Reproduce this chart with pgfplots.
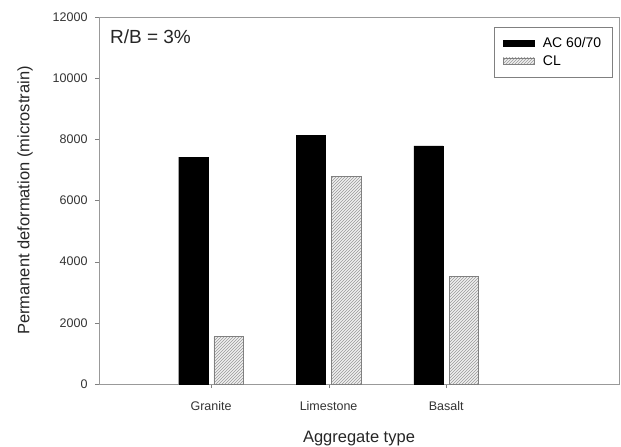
\documentclass[border=0pt]{standalone}
\usepackage{fontspec}
\setmainfont{Liberation Sans}
\usepackage{pgfplots}
\pgfplotsset{compat=1.18}
\usetikzlibrary{patterns}

% flat rectangle used as legend swatch
\pgfplotsset{flat swatch/.style={legend image code/.code={\draw[##1] (0pt,-3pt) rectangle (31pt,3pt);}}}

\begin{document}
\begin{tikzpicture}
% fixed frame around the plot area
\useasboundingbox (-99pt,-63pt) rectangle (522pt,384pt);
\begin{axis}[
  at={(0,0)}, anchor=south west,
  scale only axis, width=520pt, height=367pt,
  xmin=0.047, xmax=4.47, ymin=0, ymax=12000,
  ybar, bar width=0.25,
  xtick={1,2,3}, xticklabels={Granite,Limestone,Basalt},
  ytick={0,2000,...,12000},
  scaled y ticks=false,
  /pgf/number format/fixed,
  /pgf/number format/1000 sep={},
  /pgf/number format/assume math mode=true,
  tick align=outside, xtick pos=left, ytick pos=left,
  major tick length=4pt,
  major tick style={gray},
  axis line style={gray!80},
  ticklabel style={font=\fontsize{12.5}{15}\selectfont, text=black!80},
  xticklabel style={yshift=-10pt},
  yticklabel style={xshift=-4pt},
  xlabel={Aggregate type},
  ylabel={Permanent deformation (microstrain)},
  every axis x label/.style={at={(axis description cs:0.5,0)}, yshift=-55pt, anchor=center},
  every axis y label/.style={at={(axis description cs:0,0.5)}, xshift=-74pt, rotate=90, anchor=center},
  label style={font=\fontsize{16.5}{19}\selectfont, text=black!85},
  legend style={at={(0.9865,0.973)}, anchor=north east, draw=gray,
    font=\fontsize{14}{16}\selectfont, inner xsep=9pt, inner ysep=9pt,
    nodes={inner sep=1.5pt}, row sep=3pt},
  legend cell align=left,
  /tikz/every odd column/.append style={column sep=7pt},
]
\addplot[fill=black, draw=black, bar shift=-0.15, flat swatch]
  coordinates {(1,7420) (2,8140) (3,7790)};
\addplot[fill=gray!12, draw=gray, bar shift=0.15,
  postaction={pattern=north east lines, pattern color=gray!80}, flat swatch]
  coordinates {(1,1550) (2,6800) (3,3530)};
\legend{AC 60/70, CL}
\node[anchor=north west, inner sep=0pt, font=\fontsize{19}{22}\selectfont, text=black!85]
  at (rel axis cs:0.021,0.965) {R/B = 3\%};
\end{axis}
\end{tikzpicture}
\end{document}
